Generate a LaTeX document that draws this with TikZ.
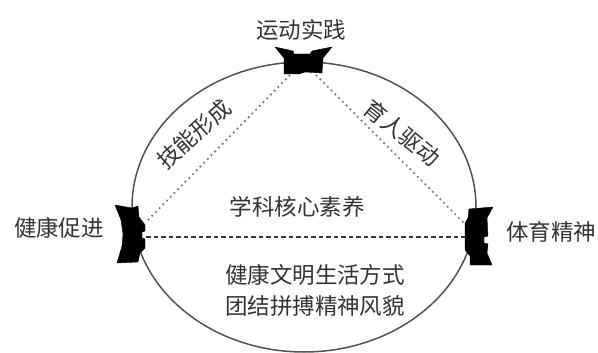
\documentclass[tikz,border=0pt]{standalone}
\usepackage{fontspec}
\newfontfamily\cjk{Noto Sans CJK SC}
\begin{document}
\begin{tikzpicture}[x=1pt,y=-1pt,
  lbl/.style={font=\cjk\fontsize{22.5}{30}\selectfont, text=black!80, inner sep=0pt, align=center},
  anchorpt/.style={inner sep=0pt, minimum size=0pt},
  bat/.style={fill=black, draw=black, line width=0.4pt, line join=round},
  ring/.style={draw=black!68, line width=1.5pt},
  dotline/.style={draw=black!55, line width=1.7pt, dash pattern=on 1.7pt off 3.6pt},
  dashline/.style={draw=black!78, line width=1.8pt, dash pattern=on 4.5pt off 3pt}]
\useasboundingbox (0,0) rectangle (598,353);
% ellipse
\draw[ring] (304,207) ellipse [x radius=172, y radius=145];
% bat shapes
\node[anchorpt] (top) at (302,61) {};
\node[anchorpt] (left) at (130,234) {};
\node[anchorpt] (right) at (478,236) {};
\fill[bat, shift={(top.center)}] (-27,-14) -- (-9,-10) -- (-8,-7) -- (8,-7) -- (10,-10) -- (30,-14)
  -- (21,-3) -- (20,12) -- (3,11) -- (-3,13) -- (-18,13) -- (-18,-3) -- cycle;
\fill[bat, shift={(left.center)}] (-15,-29) -- (2,-26) -- (8,-28) -- (9,-17) -- (15,-9) -- (15,-3) -- (12,-2)
  -- (12,4) -- (15,5) -- (15,14) -- (10,19) -- (8,28) -- (-13,29) -- (-8,12) -- (-7,0) -- (-9,-14) -- cycle;
\fill[bat, shift={(right.center)}] (15,-29) -- (-9,-27) -- (-10,-18) -- (-13,-13) -- (-13,14) -- (-8,20)
  -- (-8,29) -- (14,29) -- (9,17) -- (10,8) -- (6,7) -- (6,1) -- (10,0) -- (9,-18) -- cycle;
% connectors
\coordinate (topL) at (290,75);
\coordinate (topR) at (316,75);
\coordinate (leftU) at (146,222);
\coordinate (rightU) at (465,224);
\coordinate (leftM) at (146,237);
\coordinate (rightM) at (465,237);
\draw[dotline] (topL) -- (leftU);
\draw[dotline] (topR) -- (rightU);
\draw[dashline] (leftM) -- (rightM);
% labels
\node[lbl] (t1) at (301,30) {运动实践};
\node[lbl] (t2) at (59,228) {健康促进};
\node[lbl] (t3) at (551,232) {体育精神};
\node[lbl] (t4) at (297,207) {学科核心素养};
\node[lbl] (t5) at (315,275) {健康文明生活方式};
\node[lbl] (t6) at (315,306) {团结拼搏精神风貌};
\node[lbl, rotate=42] (t7) at (194,134) {技能形成};
\node[lbl, rotate=-39] (t8) at (402,133) {育人驱动};
\end{tikzpicture}
\end{document}
